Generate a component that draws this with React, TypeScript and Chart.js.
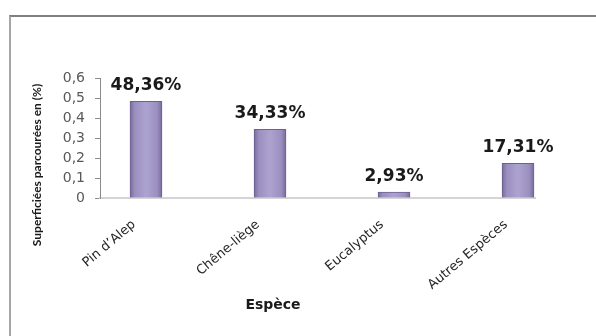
import React, { useEffect, useRef } from 'react';
import { Chart, registerables } from 'chart.js';

Chart.register(...registerables);

const categories = ['Pin d’Alep', 'Chêne-liège', 'Eucalyptus', 'Autres Espèces'];
const values = [0.4836, 0.3433, 0.0293, 0.1731];
const percentLabels = ['48,36%', '34,33%', '2,93%', '17,31%'];
const yTickLabels = ['0', '0,1', '0,2', '0,3', '0,4', '0,5', '0,6'];
const xAxisTitle = 'Espèce';
const yAxisTitle = 'Superficiées parcourées en (%)';

const FONT = "'DejaVu Sans', sans-serif";

const valueLabelPlugin = {
  id: 'valueLabels',
  afterDatasetsDraw(chart: any) {
    const meta = chart.getDatasetMeta(0);
    const c = chart.ctx;
    c.save();
    c.font = `bold 17px ${FONT}`;
    c.fillStyle = '#1a1a1a';
    c.textAlign = 'center';
    c.textBaseline = 'bottom';
    meta.data.forEach((el: any, i: number) => {
      c.fillText(percentLabels[i], el.x, el.y - 7.5);
    });
    c.restore();
  },
};

export default function App() {
  const ref = useRef<HTMLCanvasElement>(null);
  useEffect(() => {
    if (!ref.current) return;
    const chart = new Chart(ref.current, {
      type: 'bar',
      data: {
        datasets: [
          {
            data: values.map((v, i) => ({ x: i, y: v })),
            barThickness: 32,
            borderWidth: 1,
            borderColor: '#6c6190',
            backgroundColor: (ctx: any) => {
              const chart = ctx.chart;
              const xs = chart.scales && chart.scales.x;
              if (ctx.type !== 'data' || !xs) return '#a59bc8';
              const cx = xs.getPixelForValue(ctx.dataIndex);
              if (!isFinite(cx)) return '#a59bc8';
              const g = chart.ctx.createLinearGradient(cx - 16, 0, cx + 16, 0);
              g.addColorStop(0, '#776b9b');
              g.addColorStop(0.15, '#9a8fbf');
              g.addColorStop(0.5, '#ada3d0');
              g.addColorStop(0.85, '#9a8fbf');
              g.addColorStop(1, '#776b9b');
              return g;
            },
          },
        ],
      },
      options: {
        responsive: false,
        animation: false,
        layout: { padding: { left: 0, right: 50, top: 0, bottom: 6 } },
        plugins: {
          legend: { display: false },
          tooltip: { enabled: false },
          title: {
            display: true,
            text: xAxisTitle,
            position: 'bottom',
            fullSize: true,
            color: '#1a1a1a',
            font: { family: FONT, size: 14, weight: 'bold' },
            padding: { top: 0, bottom: 16.6 },
          },
          subtitle: {
            display: true,
            text: yAxisTitle,
            position: 'left',
            fullSize: true,
            color: '#1a1a1a',
            font: { family: 'Lato, sans-serif', size: 12, weight: 'bold' },
            padding: { top: 29.8, bottom: 3 },
          },
        },
        scales: {
          x: {
            type: 'linear',
            offset: false,
            min: -0.371,
            max: 3.137,
            afterFit: (s: any) => {
              s.height = 98.6;
            },
            grid: { display: false, drawTicks: false, offset: false },
            border: { display: true, color: '#d4d4d4', width: 2 },
            ticks: {
              stepSize: 1,
              includeBounds: false,
              autoSkip: false,
              minRotation: 40,
              maxRotation: 40,
              padding: 19,
              labelOffset: -12,
              color: '#262626',
              font: { family: FONT, size: 13 },
              callback: (v: any) => (Number.isInteger(v) && categories[v] !== undefined ? categories[v] : ''),
            },
          },
          xTop: {
            type: 'linear',
            position: 'top',
            display: true,
            min: 0,
            max: 1,
            afterFit: (s: any) => {
              s.height = 78;
            },
            grid: { display: false },
            border: { display: false },
            ticks: { display: false },
          },
          y: {
            min: 0,
            max: 0.6,
            afterFit: (s: any) => {
              s.width = 52.8;
            },
            grid: {
              display: true,
              drawOnChartArea: false,
              drawTicks: true,
              tickLength: 5,
              color: '#8c8c8c',
            },
            border: { display: true, color: '#8c8c8c', width: 1 },
            ticks: {
              stepSize: 0.1,
              padding: 10,
              color: '#595959',
              font: { family: FONT, size: 14 },
              callback: (_v: any, i: number) => yTickLabels[i],
            },
          },
          yRight: {
            type: 'linear',
            position: 'right',
            display: true,
            min: 0,
            max: 1,
            afterFit: (s: any) => {
              s.width = 11;
            },
            grid: { display: false },
            border: { display: false },
            ticks: { display: false },
          },
        },
      } as any,
      plugins: [valueLabelPlugin],
    });
    return () => chart.destroy();
  }, []);

  return (
    <div
      style={{
        position: 'fixed',
        left: 0,
        top: 0,
        width: 596,
        height: 336,
        overflow: 'hidden',
        background: '#ffffff',
      }}
    >
      <div
        style={{
          position: 'absolute',
          left: 9,
          top: 15,
          width: 700,
          height: 500,
          borderTop: '2px solid #7f7f7f',
          borderLeft: '2px solid #a6a6a6',
        }}
      />
      <canvas
        ref={ref}
        width={596}
        height={336}
        style={{ position: 'absolute', left: 0, top: 0, width: 596, height: 336 }}
      />
    </div>
  );
}
